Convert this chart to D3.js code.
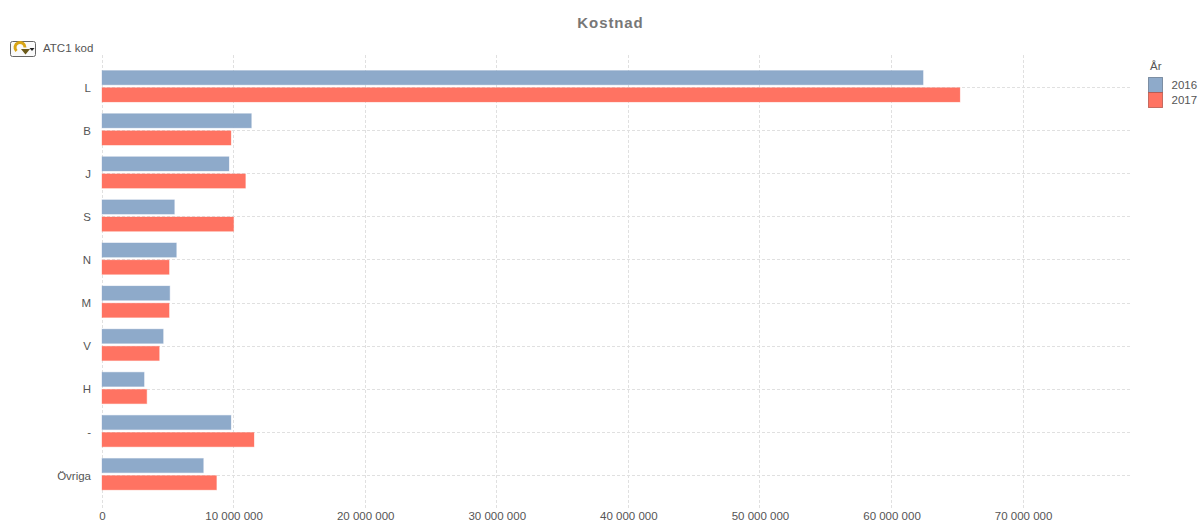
<!DOCTYPE html>
<html><head><meta charset="utf-8">
<script src="https://cdn.jsdelivr.net/npm/d3@7"></script>
<style>
html,body{margin:0;padding:0;background:#fff;overflow:hidden}
text{font-family:"Liberation Sans",Arial,sans-serif;fill:#555}
</style></head><body>
<svg id="c" width="1200" height="521"></svg>
<script>
const categories=["L","B","J","S","N","M","V","H","-","Övriga"];
const years=["2016","2017"];
const values2016=[62400000,11350000,9650000,5500000,5650000,5150000,4650000,3200000,9800000,7700000];
const values2017=[65200000,9800000,10900000,10000000,5100000,5100000,4350000,3400000,11550000,8700000];
const tickValues=[0,10000000,20000000,30000000,40000000,50000000,60000000,70000000];
const colors=["#8eaaca","#ff7362"];
const title="Kostnad", dimLabel="ATC1 kod", legendTitle="År";

const svg=d3.select("#c");
const x=d3.scaleLinear().domain([0,78200000]).range([102,1131]);
const y=d3.scaleBand().domain(categories).range([65.45,496.45]);
const g=d3.scaleBand().domain(years).range([5.1,36.5]).paddingInner(0.17);
const fmt=v=>d3.format(",")(v).replace(/,/g," ");

svg.append("text").attr("x",610.5).attr("y",28).attr("text-anchor","middle")
 .style("font-family","'Liberation Sans',sans-serif").style("font-weight","bold").style("letter-spacing","0.9px")
 .style("font-size","15px").style("fill","#777").text(title);

const grid=svg.append("g").attr("stroke","#e0e0e0").attr("stroke-dasharray","3 2").attr("shape-rendering","crispEdges");
grid.selectAll("line.v").data(tickValues).join("line").attr("class","v")
 .attr("x1",d=>Math.floor(x(d))+.5).attr("x2",d=>Math.floor(x(d))+.5).attr("y1",55).attr("y2",510);
grid.selectAll("line.h").data(categories).join("line").attr("class","h")
 .attr("x1",102).attr("x2",1131)
 .attr("y1",d=>Math.round(y(d)+y.bandwidth()/2)+.5).attr("y2",d=>Math.round(y(d)+y.bandwidth()/2)+.5);

years.forEach((yr,i)=>{
  const vals=i===0?values2016:values2017;
  svg.append("g").selectAll("rect").data(categories).join("rect")
   .attr("x",x(0))
   .attr("y",c=>y(c)+g(yr))
   .attr("width",(c,k)=>x(vals[k])-x(0))
   .attr("height",g.bandwidth())
   .attr("fill",colors[i])
   .attr("stroke",colors[i]).attr("stroke-opacity",.35).attr("stroke-width",1);
});

const yAxis=d3.axisLeft(y).tickSize(0).tickPadding(0);
const ya=svg.append("g").attr("transform","translate(92,1)").call(yAxis);
ya.select(".domain").remove();
ya.selectAll("text").style("font-size","11.5px").style("fill","#555").attr("x",-1);

const xAxis=d3.axisBottom(x).tickValues(tickValues).tickFormat(fmt).tickSize(0).tickPadding(0);
const xa=svg.append("g").attr("transform","translate(0,510)").call(xAxis);
xa.select(".domain").remove();
xa.selectAll("text").style("font-size","11.5px").style("fill","#555").attr("dy","0.9em");

svg.append("text").attr("x",43).attr("y",52).style("font-size","11.5px").text(dimLabel);

// cycle button
const b=svg.append("g").attr("transform","translate(10,41)");
b.append("rect").attr("x",.5).attr("y",.5).attr("width",25).attr("height",15).attr("rx",2)
 .attr("fill","#fafafa").attr("stroke","#666");
b.append("path").attr("d","M6.5 10 A5 5 0 1 1 15 6.5").attr("fill","none").attr("stroke","#d9a514").attr("stroke-width",3);
b.append("path").attr("d","M11 8 L20 8 L15.5 13.5 Z").attr("fill","#6b5a1a");
b.append("path").attr("d","M19.5 7 L24.5 7 L22 10 Z").attr("fill","#222");

// legend
svg.append("text").attr("x",1150).attr("y",70).style("font-size","11.5px").text(legendTitle);
const lg=svg.append("g").attr("transform","translate(1148.5,77.5)");
years.forEach((yr,i)=>{
  lg.append("rect").attr("x",0).attr("y",i*15).attr("width",14).attr("height",15)
   .attr("fill",colors[i]).attr("stroke",d3.color(colors[i]).darker(1).formatHex()).attr("stroke-opacity",.75);
  lg.append("text").attr("x",23).attr("y",i*15+11).style("font-size","11.5px").text(yr);
});
</script>
</body></html>
